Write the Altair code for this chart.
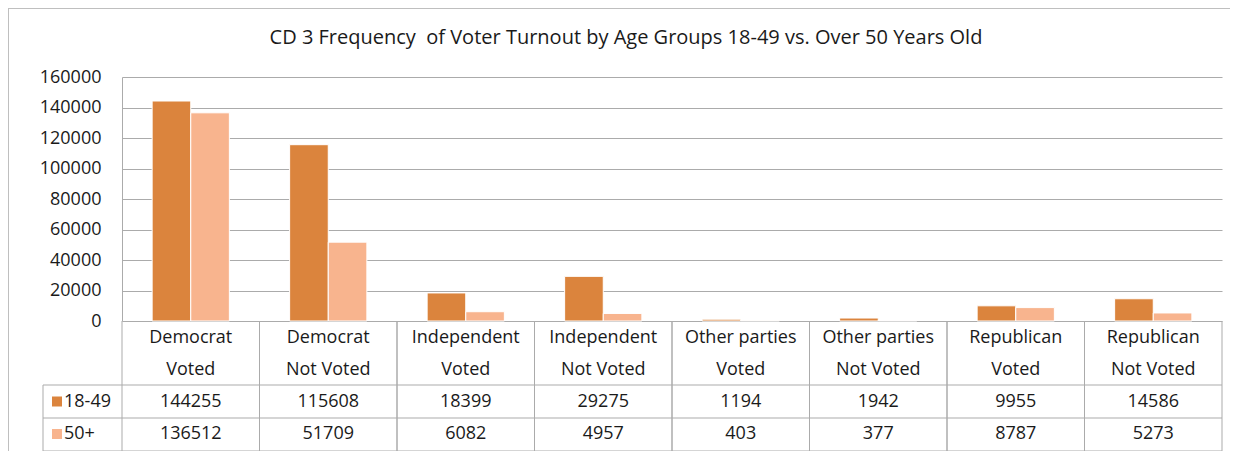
import altair as alt
import pandas as pd

# ---------------- data ----------------
categories = ["Democrat Voted", "Democrat Not Voted", "Independent Voted", "Independent Not Voted",
              "Other parties Voted", "Other parties Not Voted", "Republican Voted", "Republican Not Voted"]
parties = ["Democrat", "Democrat", "Independent", "Independent",
           "Other parties", "Other parties", "Republican", "Republican"]
statuses = ["Voted", "Not Voted", "Voted", "Not Voted", "Voted", "Not Voted", "Voted", "Not Voted"]
series = ["18-49", "50+"]
values_18_49 = [144255, 115608, 18399, 29275, 1194, 1942, 9955, 14586]
values_50_plus = [136512, 51709, 6082, 4957, 403, 377, 8787, 5273]
y_ticks = [0, 20000, 40000, 60000, 80000, 100000, 120000, 140000, 160000]
title_text = "CD 3 Frequency \u00a0of Voter Turnout by Age Groups 18-49 vs. Over 50 Years Old"
colors = ["#DB843D", "#F8B48E"]

# ---------------- tables ----------------
bars_df = pd.DataFrame({
    "category": categories * 2,
    "series": [series[0]] * len(categories) + [series[1]] * len(categories),
    "value": values_18_49 + values_50_plus,
})
cat_df = pd.DataFrame({"category": categories, "party": parties, "status": statuses})
series_df = pd.DataFrame({"series": series})
title_df = pd.DataFrame({"title": [title_text]})
one_df = pd.DataFrame({"k": [0]})

W, H = 1100, 244
FONT = "Open Sans"
FS = 18
GRID = "#ABABAB"
TXT = "#1a1a1a"

xcat = alt.X("category:N", sort=categories,
             scale=alt.Scale(domain=categories, paddingInner=0, paddingOuter=0), axis=None)
color = alt.Color("series:N", scale=alt.Scale(domain=series, range=colors), legend=None)

bars = alt.Chart(bars_df).mark_bar(stroke="white", strokeWidth=1).encode(
    x=xcat,
    xOffset=alt.XOffset("series:N", sort=series,
                        scale=alt.Scale(domain=series, paddingInner=0, paddingOuter=0.78)),
    y=alt.Y("value:Q", scale=alt.Scale(domain=[0, 160000], nice=False),
            axis=alt.Axis(values=y_ticks, format="d", title=None, ticks=False, domain=True,
                          domainColor=GRID, gridColor=GRID, labelFont=FONT, labelFontSize=FS,
                          labelColor=TXT, labelPadding=21)),
    color=color,
)

title = alt.Chart(title_df).mark_text(font=FONT, fontSize=20, color=TXT, baseline="middle").encode(
    text="title:N", x=alt.value(504), y=alt.value(-39))

header1 = alt.Chart(cat_df).mark_text(font=FONT, fontSize=FS, color=TXT, baseline="middle").encode(
    x=xcat, text="party:N", y=alt.value(H + 17))
header2 = alt.Chart(cat_df).mark_text(font=FONT, fontSize=FS, color=TXT, baseline="middle").encode(
    x=xcat, text="status:N", y=alt.value(H + 49))

row_y = [H + 80.5, H + 113]
rows = []
for i, s in enumerate(series):
    rows.append(
        alt.Chart(bars_df).transform_filter(alt.datum.series == s)
        .mark_text(font=FONT, fontSize=FS, color=TXT, baseline="middle")
        .encode(x=xcat, text="value:Q", y=alt.value(row_y[i]))
    )
    rows.append(
        alt.Chart(series_df).transform_filter(alt.datum.series == s)
        .mark_square(size=100, opacity=1)
        .encode(x=alt.value(-65), y=alt.value(row_y[i]), color=color)
    )
    rows.append(
        alt.Chart(series_df).transform_filter(alt.datum.series == s)
        .mark_text(font=FONT, fontSize=FS, color=TXT, baseline="middle", align="left")
        .encode(x=alt.value(-58), y=alt.value(row_y[i]), text="series:N")
    )

vleft = alt.Chart(cat_df).mark_rule(color=GRID, strokeWidth=1).encode(
    x=alt.X("category:N", sort=categories, bandPosition=0,
            scale=alt.Scale(domain=categories, paddingInner=0, paddingOuter=0), axis=None),
    y=alt.value(H), y2=alt.value(H + 130))
vright = alt.Chart(cat_df).mark_rule(color=GRID, strokeWidth=1).encode(
    x=alt.X("category:N", sort=categories, bandPosition=1,
            scale=alt.Scale(domain=categories, paddingInner=0, paddingOuter=0), axis=None),
    y=alt.value(H), y2=alt.value(H + 130))

hlines = []
for yy in [H + 64, H + 97, H + 130]:
    hlines.append(alt.Chart(one_df).mark_rule(color=GRID, strokeWidth=1).encode(
        x=alt.value(-79), x2=alt.value(W), y=alt.value(yy)))
hlines.append(alt.Chart(one_df).mark_rule(color=GRID, strokeWidth=1).encode(
    x=alt.value(-79), y=alt.value(H + 64), y2=alt.value(H + 130)))

border = [
    alt.Chart(one_df).mark_rule(color="#BFBFBF", strokeWidth=1).encode(
        x=alt.value(-113.5), y=alt.value(-69), y2=alt.value(H + 140)),
    alt.Chart(one_df).mark_rule(color="#BFBFBF", strokeWidth=1).encode(
        x=alt.value(-114), x2=alt.value(W + 20), y=alt.value(-68.5)),
]

chart = alt.layer(bars, title, header1, header2, vleft, vright, *hlines, *rows, *border).properties(
    width=W, height=H,
    autosize=alt.AutoSizeParams(type="none"),
    padding={"left": 114, "top": 69, "right": 8, "bottom": 130},
    background="white",
).configure_view(stroke=None)

chart.save("out.html", embed_options={"renderer": "svg", "actions": False})
